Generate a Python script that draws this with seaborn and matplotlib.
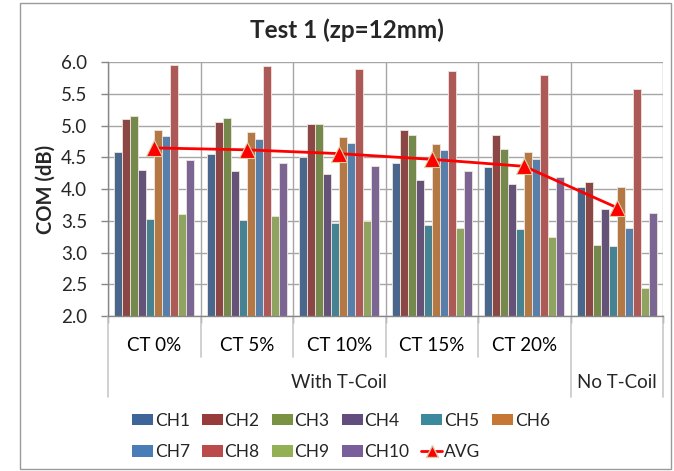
import matplotlib
matplotlib.use("Agg")
import matplotlib.pyplot as plt
import numpy as np
import pandas as pd
import seaborn as sns
from matplotlib.lines import Line2D
from matplotlib.patches import Patch, Rectangle
from matplotlib.ticker import FormatStrFormatter, MultipleLocator

# Test conditions (x categories) and their two-level axis labels
conditions = ["CT 0%", "CT 5%", "CT 10%", "CT 15%", "CT 20%", "No T-Coil"]
condition_labels = ["CT 0%", "CT 5%", "CT 10%", "CT 15%", "CT 20%", ""]
setup_groups = ["With T-Coil", "No T-Coil"]
setup_spans = [5, 1]

# COM (dB) per channel for each condition
channels = ["CH1", "CH2", "CH3", "CH4", "CH5", "CH6", "CH7", "CH8", "CH9", "CH10"]
ch1 = [4.58, 4.55, 4.51, 4.42, 4.35, 4.03]
ch2 = [5.11, 5.06, 5.03, 4.94, 4.85, 4.11]
ch3 = [5.15, 5.12, 5.02, 4.85, 4.63, 3.12]
ch4 = [4.30, 4.28, 4.24, 4.15, 4.08, 3.69]
ch5 = [3.53, 3.52, 3.47, 3.43, 3.37, 3.11]
ch6 = [4.93, 4.90, 4.82, 4.71, 4.59, 4.04]
ch7 = [4.84, 4.79, 4.73, 4.62, 4.48, 3.38]
ch8 = [5.96, 5.94, 5.89, 5.86, 5.80, 5.58]
ch9 = [3.61, 3.58, 3.49, 3.39, 3.24, 2.44]
ch10 = [4.46, 4.41, 4.36, 4.29, 4.19, 3.63]
avg = [4.65, 4.62, 4.56, 4.47, 4.36, 3.71]

channel_colors = ["#3E6597", "#973C3A", "#7A9343", "#634C7E", "#3A899D",
                  "#C67733", "#4A7DB8", "#BA4B4A", "#94B054", "#7A5E9B"]

series = [ch1, ch2, ch3, ch4, ch5, ch6, ch7, ch8, ch9, ch10]
df = pd.DataFrame(
    [(cond, ch, vals[i]) for ch, vals in zip(channels, series)
     for i, cond in enumerate(conditions)],
    columns=["condition", "channel", "com"],
)

sns.set_style("white")
plt.rcParams["font.family"] = ["Lato", "DejaVu Sans"]
grid_gray = "#A6A6A6"
axis_gray = "#868686"
fs = 13.5
legend_fs = 12.5

fig = plt.figure(figsize=(6.74, 4.71), dpi=100)
ax = fig.add_axes([108 / 674, 155 / 471, 555 / 674, 253.7 / 471])

sns.barplot(data=df, x="condition", y="com", hue="channel", order=conditions,
            hue_order=channels, palette=channel_colors, width=0.865, gap=0,
            edgecolor="#EFE6DC", linewidth=0.6, ax=ax, legend=False, zorder=2)

sns.pointplot(x=conditions, y=avg, order=conditions, color="#FF0000",
              markers="^", markersize=11, linewidth=2, errorbar=None,
              markeredgecolor="#D9D2A8", markeredgewidth=0.8, ax=ax, zorder=4)

ax.set_ylim(2.0, 6.0)
ax.set_xlim(-0.5, len(conditions) - 0.5)
ax.yaxis.set_major_locator(MultipleLocator(0.5))
ax.yaxis.set_major_formatter(FormatStrFormatter("%.1f"))
ax.set_xticks(range(len(conditions)))
ax.set_xticklabels(condition_labels)
ax.set_xticks(np.arange(-0.5, len(conditions)), minor=True)
ax.tick_params(axis="x", which="major", length=0, pad=15, labelsize=fs,
               labelcolor="#000000")
ax.tick_params(axis="x", which="minor", length=5, width=1, color=axis_gray,
               direction="out", bottom=True)
ax.tick_params(axis="y", length=5, width=1, color=axis_gray, direction="out",
               left=True, labelsize=fs, pad=10)
ax.set_axisbelow(True)
ax.grid(axis="y", which="major", color=grid_gray, linewidth=1)
ax.grid(axis="x", which="minor", color=grid_gray, linewidth=1)
ax.grid(axis="x", which="major", visible=False)
ax.set_xlabel("")
ax.set_ylabel("")
for side in ["top", "right"]:
    ax.spines[side].set_visible(False)
for side in ["left", "bottom"]:
    ax.spines[side].set_color(axis_gray)
    ax.spines[side].set_linewidth(1)

# Two-level category axis: separators and outer group labels
trans = ax.get_xaxis_transform()
sep_gray = "#C8C8C8"
edges = np.cumsum([0] + setup_spans) - 0.5
for b in np.arange(-0.5, len(conditions)):
    depth = -0.32 if np.any(np.isclose(b, edges)) else -0.162
    ax.add_line(Line2D([b, b], [0, depth], transform=trans, color=sep_gray,
                       linewidth=1.2, clip_on=False))
for name, lo, hi in zip(setup_groups, edges[:-1], edges[1:]):
    ax.text((lo + hi) / 2, -0.264, name, transform=trans, ha="center",
            va="center", fontsize=fs)

fig.text(347 / 674, 1 - 30 / 471, "Test 1 (zp=12mm)", ha="center",
         va="center", fontsize=17.5, fontweight="bold")
fig.text(46 / 674, 1 - 189.5 / 471, "COM (dB)", ha="center", va="center",
         rotation=90, fontsize=14.5, fontweight="bold")

# Legend laid out row by row: CH1..CH6 then CH7..CH10, AVG
handles = [Patch(facecolor=c, edgecolor="none") for c in channel_colors]
avg_handle = Line2D([], [], color="#FF0000", linewidth=2, marker="^",
                    markersize=9, markeredgecolor="#D9D2A8")
order = [0, 6, 1, 7, 2, 8, 3, 9, 4, None, 5]
leg_handles = [handles[i] if i is not None else avg_handle for i in order]
leg_labels = [channels[i] if i is not None else "AVG" for i in order]
fig.legend(leg_handles, leg_labels, ncol=6, loc="upper left",
           bbox_to_anchor=(120 / 674, 1 - 400.5 / 471), frameon=False,
           fontsize=legend_fs, handlelength=1.2, handleheight=0.65,
           handletextpad=0.1, columnspacing=0.7, labelspacing=0.89,
           borderpad=0.2)

fig.patches.append(Rectangle((19.5 / 674, 2 / 471), 651 / 674, 466 / 471,
                             transform=fig.transFigure, fill=False,
                             edgecolor="#9A9A9A", linewidth=1))

fig.savefig("out.png", dpi=100, facecolor="white")
